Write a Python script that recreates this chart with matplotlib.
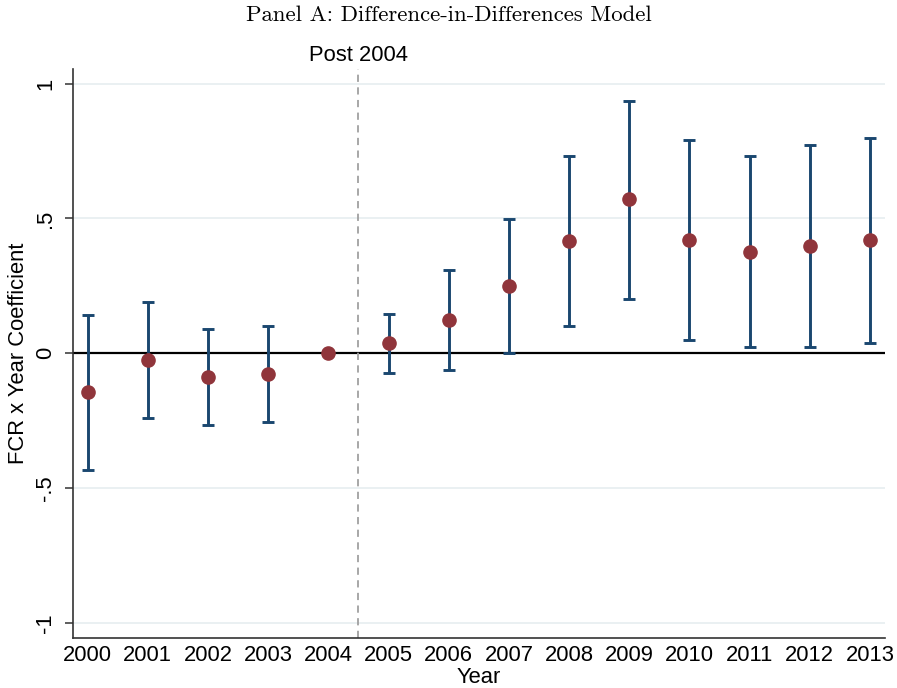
import matplotlib
matplotlib.use("Agg")
import matplotlib.pyplot as plt
import matplotlib.transforms as mtransforms

years = [2000, 2001, 2002, 2003, 2004, 2005, 2006, 2007, 2008, 2009, 2010, 2011, 2012, 2013]
coef = [-0.145, -0.025, -0.088, -0.077, 0.0, 0.037, 0.123, 0.249, 0.416, 0.571, 0.419, 0.375, 0.398, 0.419]
ci_low = [-0.434, -0.240, -0.267, -0.255, 0.0, -0.074, -0.063, 0.000, 0.103, 0.203, 0.051, 0.022, 0.024, 0.038]
ci_high = [0.141, 0.190, 0.090, 0.100, 0.0, 0.147, 0.310, 0.497, 0.731, 0.937, 0.789, 0.731, 0.771, 0.798]
ytick_vals = [-1, -0.5, 0, 0.5, 1]
ytick_labels = ["-1", "-.5", "0", ".5", "1"]
title = "Panel A: Difference-in-Differences Model"
event_year = 2004.5
event_label = "Post 2004"

plt.rcParams['font.family'] = ['Liberation Sans', 'DejaVu Sans']

fig = plt.figure(figsize=(8.97, 6.88), dpi=100)
ax = fig.add_axes([0.081, 0.0731, 0.9056, 0.8266])

navy = "#1a476f"
maroon = "#90353b"

# gridlines
for v in ytick_vals:
    if v != 0:
        ax.axhline(v, color="#e6eef0", lw=1.2, zorder=0)
ax.axhline(0, color="black", lw=1.6, zorder=1)
ax.axvline(event_year, color="#a0a0a0", lw=1.3, ls=(0, (4, 3)), zorder=1)

# error bars (skip reference year with zero-width interval)
eb_x = [y for y, lo, hi in zip(years, ci_low, ci_high) if hi != lo]
eb_lo = [lo for y, lo, hi in zip(years, ci_low, ci_high) if hi != lo]
eb_hi = [hi for y, lo, hi in zip(years, ci_low, ci_high) if hi != lo]
ax.vlines(eb_x, eb_lo, eb_hi, color=navy, lw=2.1, zorder=2)
ax.hlines(eb_lo, [x - 0.1 for x in eb_x], [x + 0.1 for x in eb_x], color=navy, lw=2.1, zorder=2)
ax.hlines(eb_hi, [x - 0.1 for x in eb_x], [x + 0.1 for x in eb_x], color=navy, lw=2.1, zorder=2)

ax.plot(years, coef, 'o', color=maroon, ms=9.5, mec=maroon, zorder=3)

ax.set_xlim(1999.75, 2013.25)
ax.set_ylim(-1.054, 1.054)
ax.set_xticks(years)
ax.set_xticklabels([str(y) for y in years], fontsize=15.8)
ax.set_yticks(ytick_vals)
ax.set_yticklabels(ytick_labels, fontsize=15.8, rotation=90, va='center')
ax.tick_params(axis='x', length=0, pad=5)
ax.tick_params(axis='y', length=6, width=1.1, pad=6, color="#333333")

for s in ['top', 'right']:
    ax.spines[s].set_visible(False)
for s in ['left', 'bottom']:
    ax.spines[s].set_linewidth(1.2)
    ax.spines[s].set_color("#333333")

ax.set_xlabel("Year", fontsize=15.8, labelpad=1)
ax.set_ylabel("FCR x Year Coefficient", fontsize=15.8, labelpad=4)

trans = mtransforms.blended_transform_factory(ax.transData, ax.transAxes)
ax.text(event_year, 1.005, event_label, transform=trans, ha='center', va='bottom',
        fontsize=15.8, color='black')

fig.text(0.5, 0.978, title, ha='center', va='center', fontsize=16.4,
         fontfamily='cmr10')

fig.savefig("out.png", dpi=100)
